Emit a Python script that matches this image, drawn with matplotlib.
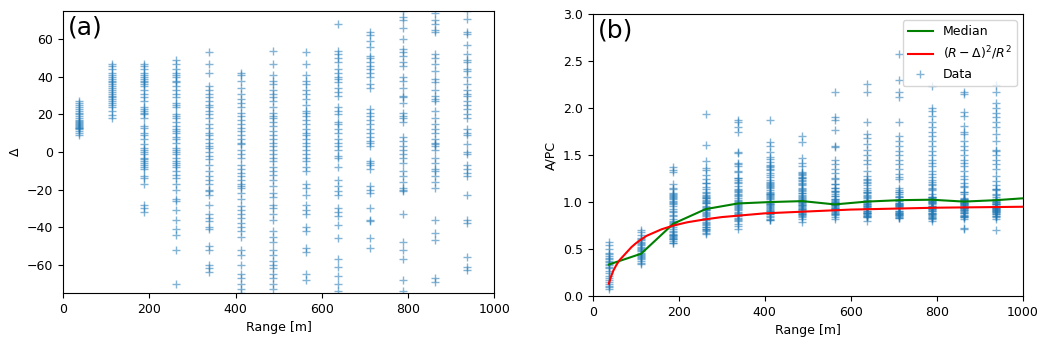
import numpy as np
import matplotlib
matplotlib.use('Agg')
import matplotlib.pyplot as plt

# Range bin centres [m]
ranges = [37.5, 112.5, 187.5, 262.5, 337.5, 412.5, 487.5,
          562.5, 637.5, 712.5, 787.5, 862.5, 937.5]

# Delta per range bin (values outside +-75 only show up in panel b)
delta_037 = [9, 10, 11, 12, 12.5, 13, 13.5, 14, 14.5, 15, 15.5, 16, 16.5,
             17, 18, 19, 20, 21, 22, 23, 24, 25, 26, 27]
delta_112 = [18, 19.5, 22, 24, 25, 26, 27, 28, 29, 30, 31, 32, 33, 34, 35,
             36, 37, 38, 39, 40, 41, 42, 44, 46, 47]
delta_187 = [47, 46, 44, 42, 41, 40, 39, 38, 37, 36, 35, 33, 31, 29, 27, 24,
             23, 22, 21, 20, 18, 14, 13, 10, 9, 7, 4, 2, 1, 0, -1, -3, -4,
             -5, -6, -7, -8, -9, -13, -14, -17, -28, -30, -32]
delta_262 = [49, 47, 44, 42, 41, 40, 38, 37, 35, 33, 31, 29, 26, 25, 24, 20,
             19, 18, 16, 14, 12, 11, 10, 8, 7, 5, 2, 1, 0, -1, -3, -5, -6,
             -7, -8, -10, -12, -14, -17, -20, -25, -26, -31, -36, -41, -44,
             -52, -70, -103]
delta_337 = [53, 47, 42, 35, 33, 31, 29, 27, 25, 24, 22, 20, 18, 15, 13, 10,
             9, 7, 5, 3, 2, 0, -2, -4, -7, -10, -13, -15, -17, -20, -21, -23,
             -28, -33, -35, -37, -40, -41, -50, -52, -60, -62, -64,
             -79, -80, -109, -115, -122, -124]
delta_412 = [42, 41, 38, 34, 31, 28, 26, 24, 21, 19, 17, 15, 13, 11, 9, 7, 5,
             4, 1, -1, -3, -7, -9, -11, -13, -15, -17, -18, -19, -22, -25,
             -29, -31, -33, -35, -38, -40, -42, -45, -52, -55, -60, -65, -67,
             -70, -73, -75, -80, -85, -90, -98, -109, -116, -152]
delta_487 = [54, 47, 41, 38, 36, 33, 31, 29, 27, 24, 21, 19, 18, 16, 14, 11,
             9, 7, 5, 3, 1, -1, -3, -5, -8, -10, -12, -15, -18, -22, -24, -28,
             -30, -33, -36, -42, -45, -48, -52, -55, -58, -60, -62, -65, -67,
             -70, -73, -85, -93, -104, -137, -148]
delta_562 = [53, 47, 41, 38, 36, 33, 31, 28, 25, 22, 21, 19, 17, 15, 12, 10,
             9, 7, 5, 3, 1, -1, -3, -5, -8, -10, -17, -19, -23, -28, -31, -33,
             -40, -42, -51, -53, -65, -68, -80, -92, -103, -115, -145, -149,
             -186, -207, -213, -266]
delta_637 = [68, 54, 52, 50, 48, 44, 42, 40, 39, 37, 34, 32, 30, 24, 22, 20,
             16, 15, 12, 10, 7, 5, 3, 1, -2, -3, -8, -15, -18, -21, -23, -30,
             -32, -34, -39, -46, -57, -61, -66, -70, -74, -84, -98, -117,
             -130, -143, -156, -174, -189, -199, -231, -302, -321]
delta_712 = [64, 62, 59, 56, 51, 50, 48, 46, 44, 42, 40, 36, 34, 23, 21, 19,
             17, 15, 12, 10, 8, 6, 5, 3, -5, -6, -7, -9, -18, -20, -22, -30,
             -36, -37, -46, -51, -84, -90, -100, -115, -131, -146, -160, -174,
             -189, -203, -216, -257, -325, -337, -368, -432]
delta_787 = [83, 75, 72, 70, 66, 60, 55, 53, 51, 48, 46, 40, 38, 34, 30, 29,
             26, 21, 19, 18, 16, 8, 6, 3, 1, -1, -3, -6, -10, -13, -16, -19,
             -20, -21, -33, -48, -52, -57, -68, -74, -79, -89, -100, -110,
             -121, -138, -151, -161, -177, -190, -209, -224, -239, -254, -269,
             -284, -304, -318, -326, -391]
delta_862 = [136, 130, 80, 74, 70, 68, 65, 64, 52, 50, 47, 43, 39, 37, 33,
             30, 28, 27, 22, 18, 15, 12, 10, 7, 5, 4, 3, 1, -3, -6, -9, -10,
             -13, -16, -19, -36, -43, -47, -67, -69, -82, -98, -113, -132,
             -151, -165, -176, -194, -211, -228, -245, -269, -278, -298, -333,
             -345, -402, -408]
delta_937 = [153, 90, 80, 75, 71, 64, 63, 57, 52, 49, 48, 44, 43, 40, 36, 33,
             31, 30, 27, 25, 23, 20, 18, 12, 10, 9, 4, 0, -1, -7, -9, -11, -13,
             -23, -36, -38, -56, -61, -63, -81, -98, -123, -152, -172, -191,
             -211, -226, -230, -267, -292, -320, -338, -355, -372, -388, -405,
             -444, -466]

deltas = [delta_037, delta_112, delta_187, delta_262, delta_337, delta_412,
          delta_487, delta_562, delta_637, delta_712, delta_787, delta_862,
          delta_937]

# Median of A/PC per bin
median_r = [37.5, 112.5, 187.5, 262.5, 337.5, 412.5, 487.5, 562.5, 637.5,
            712.5, 787.5, 862.5, 937.5, 1000]
median_apc = [0.335, 0.45, 0.77, 0.925, 0.985, 1.0, 1.01, 0.975, 1.005,
              1.02, 1.025, 1.005, 1.02, 1.04]

# Model curve (R - Delta)^2 / R^2
model_r = [37.5, 42, 48, 55, 62, 70, 80, 90, 100, 112, 125, 140, 160, 187.5,
           220, 260, 300, 350, 400, 500, 600, 700, 800, 900, 1000]
model_apc = [0.13, 0.20, 0.27, 0.33, 0.38, 0.42, 0.47, 0.52, 0.56, 0.60,
             0.64, 0.67, 0.71, 0.75, 0.785, 0.815, 0.84, 0.86, 0.88, 0.90,
             0.92, 0.93, 0.94, 0.945, 0.95]

# flatten data; A/PC of each point follows from its Delta
x_all = np.concatenate([np.full(len(d), r) for r, d in zip(ranges, deltas)])
d_all = np.concatenate([np.array(d, dtype=float) for d in deltas])
apc_all = ((x_all - d_all) / x_all) ** 2

plt.rcParams['font.family'] = ['DejaVu Sans']
fs = 9

fig = plt.figure(figsize=(10.52, 3.45), dpi=100)
ax1 = fig.add_axes([0.060, 0.151, 0.410, 0.817])
ax2 = fig.add_axes([0.5634, 0.142, 0.409, 0.817])

# --- (a) Delta vs range ---
ax1.plot(x_all, d_all, '+', color='C0', alpha=0.55, markersize=6)
ax1.set_xlim(0, 1000)
ax1.set_ylim(-75, 75)
ax1.set_yticks([-60, -40, -20, 0, 20, 40, 60])
ax1.set_xlabel('Range [m]', fontsize=fs)
ax1.set_ylabel('Δ', fontsize=fs)
ax1.tick_params(labelsize=fs)
ax1.text(0.012, 0.985, '(a)', transform=ax1.transAxes, fontsize=18,
         va='top', ha='left')

# --- (b) A/PC vs range ---
hd, = ax2.plot(x_all, apc_all, '+', color='C0', alpha=0.55, markersize=6,
               zorder=1, label='Data')
hm, = ax2.plot(median_r, median_apc, color='green', linewidth=1.5,
               zorder=3, label='Median')
hr, = ax2.plot(model_r, model_apc, color='red', linewidth=1.5, zorder=3,
               label=r'$(R-\Delta)^2/R^2$')
ax2.set_xlim(0, 1000)
ax2.set_ylim(0, 3)
ax2.set_yticks(np.arange(0, 3.01, 0.5))
ax2.set_xlabel('Range [m]', fontsize=fs)
ax2.set_ylabel('A/PC', fontsize=fs)
ax2.tick_params(labelsize=fs)
ax2.text(0.012, 0.985, '(b)', transform=ax2.transAxes, fontsize=18,
         va='top', ha='left')
ax2.legend(handles=[hm, hr, hd], loc='upper right', fontsize=fs)

plt.savefig('out.png', dpi=100)
